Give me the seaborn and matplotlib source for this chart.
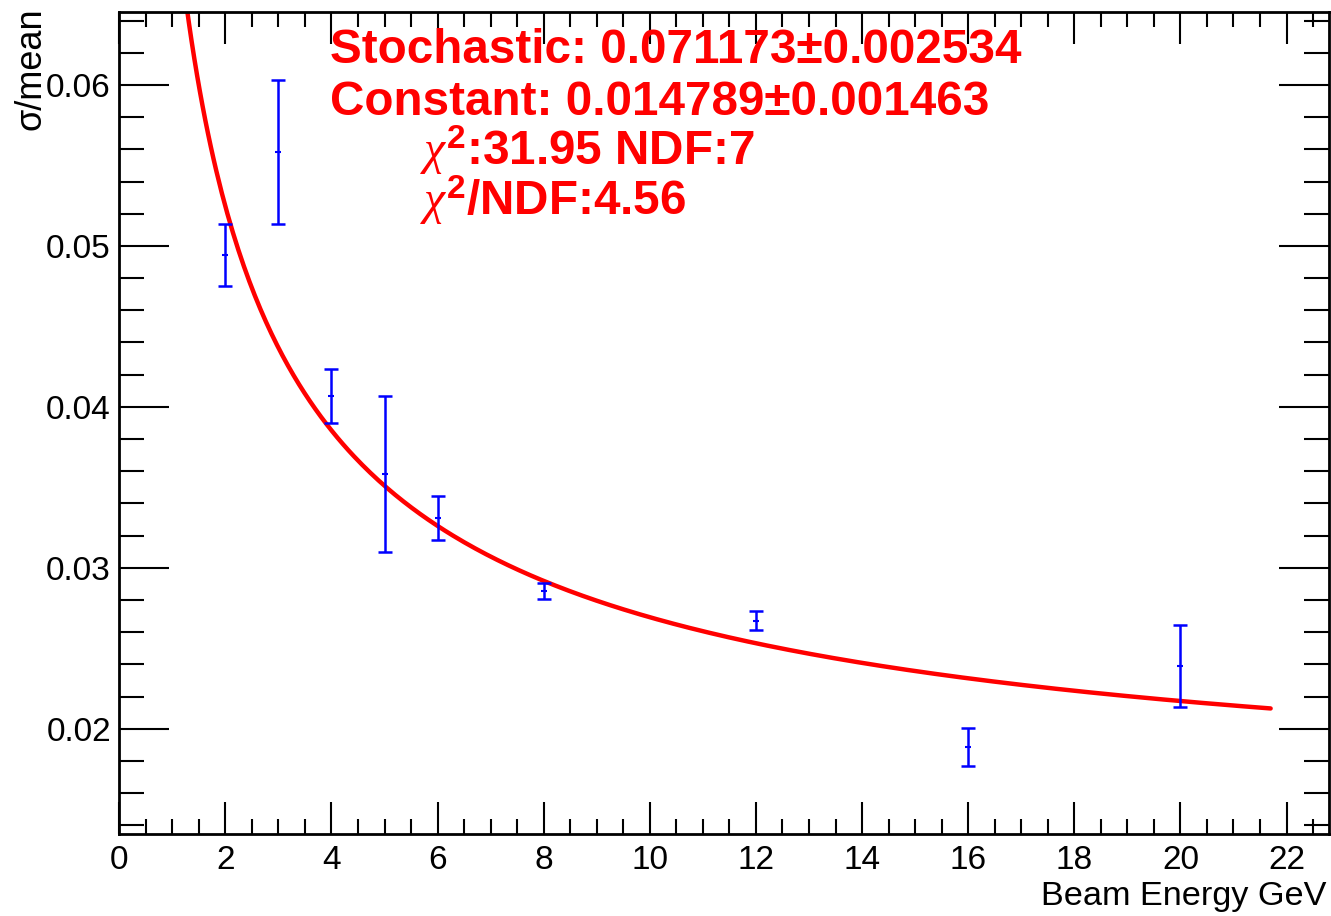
import numpy as np
import pandas as pd
import matplotlib
matplotlib.use("Agg")
import matplotlib.pyplot as plt
import seaborn as sns
from matplotlib.ticker import MultipleLocator

# ---- data ----
energy = [2, 3, 4, 5, 6, 8, 12, 16, 20]
resolution = [0.04944, 0.05584, 0.04068, 0.03584, 0.03312, 0.02857, 0.02671, 0.01888, 0.02388]
res_err = [0.00190, 0.00447, 0.00170, 0.00483, 0.00136, 0.00050, 0.00060, 0.00120, 0.00254]

# fit parameters shown on the chart
stochastic = 0.071173
stochastic_err = 0.002534
constant = 0.014789
constant_err = 0.001463
chi2 = 31.95
ndf = 7
chi2_ndf = 4.56
fit_range = [1.0, 21.7]

sns.set_style("ticks")
plt.rcParams['font.family'] = ['Liberation Sans', 'DejaVu Sans']
plt.rcParams['text.color'] = 'black'
plt.rcParams['mathtext.fontset'] = 'custom'
plt.rcParams['mathtext.rm'] = 'Liberation Serif'
plt.rcParams['mathtext.it'] = 'Liberation Serif:italic'
plt.rcParams['mathtext.bf'] = 'Liberation Sans:bold'

fig = plt.figure(figsize=(13.31, 9.16), dpi=100)
ax = fig.add_axes([0.0896, 0.0898, 0.9089, 0.8974])

# fit curve: sigma/E = a/sqrt(E) (+) c
e_fit = np.linspace(fit_range[0], fit_range[1], 400)
fit_df = pd.DataFrame({"E": e_fit,
                       "r": np.sqrt(stochastic**2 / e_fit + constant**2)})
sns.lineplot(data=fit_df, x="E", y="r", ax=ax, color="#ff0000", lw=3.2,
             zorder=2)

# data points
df = pd.DataFrame({"E": energy, "r": resolution, "err": res_err})
ax.errorbar(df["E"], df["r"], yerr=df["err"], fmt="none", ecolor="#0000ff",
            elinewidth=1.8, capsize=5, capthick=1.8, zorder=3)
sns.scatterplot(data=df, x="E", y="r", ax=ax, marker="_", s=20,
                color="#0000ff", linewidth=1.5, zorder=4)

ax.set_xlim(0, 22.8)
ax.set_ylim(0.01348, 0.06455)
ax.xaxis.set_major_locator(MultipleLocator(2))
ax.xaxis.set_minor_locator(MultipleLocator(0.5))
ax.yaxis.set_major_locator(MultipleLocator(0.01))
ax.yaxis.set_minor_locator(MultipleLocator(0.002))
ax.yaxis.set_major_formatter(matplotlib.ticker.FuncFormatter(lambda v, p: f"{v:.2f}"))

ax.tick_params(axis="both", which="both", direction="in", top=True,
               right=True, width=1.5, colors="black", labelcolor="black",
               labelsize=24)
ax.tick_params(axis="x", which="major", length=23, pad=8)
ax.tick_params(axis="x", which="minor", length=11)
ax.tick_params(axis="y", which="major", length=36, pad=6)
ax.tick_params(axis="y", which="minor", length=18)
for s in ax.spines.values():
    s.set_linewidth(2)
    s.set_color("black")

ax.set_xlabel("")
ax.set_ylabel("")
fig.text(0.9965, 0.012, "Beam Energy GeV", ha="right", va="baseline",
         fontsize=24.7, color="black")
fig.text(0.0235, 0.992, "σ/mean", rotation=90, ha="center", va="top",
         fontsize=26, color="black")

# fit statistics
red = "#ff0000"
def fx(px):
    return px / 1331.0
def fy(px):
    return 1 - px / 916.0

fs = 34.3
fig.text(fx(330), fy(63), f"Stochastic: {stochastic:.6f}±{stochastic_err:.6f}",
         color=red, fontsize=fs, fontweight="bold", va="baseline")
fig.text(fx(330), fy(115), f"Constant: {constant:.6f}±{constant_err:.6f}",
         color=red, fontsize=fs, fontweight="bold", va="baseline")
fig.text(fx(420), fy(165), r"$\chi^{\mathbf{2}}$" + f":{chi2:.2f} NDF:{ndf}",
         color=red, fontsize=fs, fontweight="bold", va="baseline")
fig.text(fx(420), fy(215), r"$\chi^{\mathbf{2}}$" + f"/NDF:{chi2_ndf:.2f}",
         color=red, fontsize=fs, fontweight="bold", va="baseline")

fig.savefig("out.png", dpi=100)
